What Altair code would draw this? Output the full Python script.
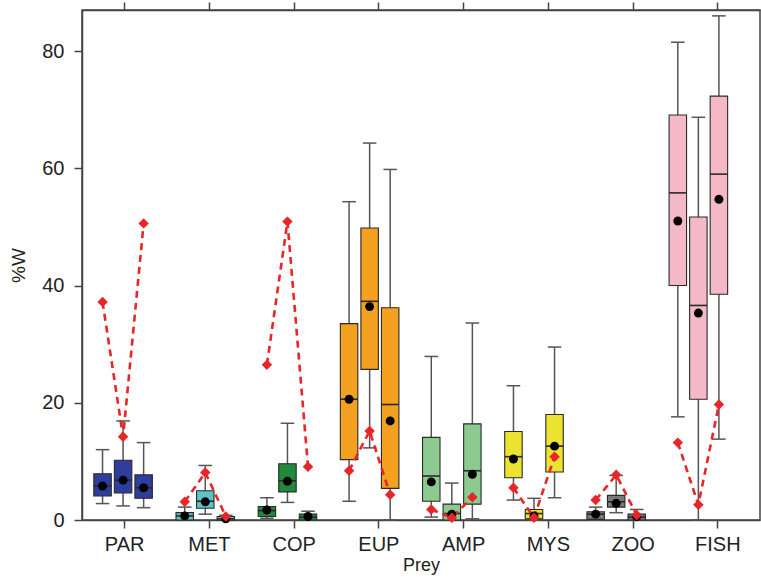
import altair as alt
import pandas as pd

prey = ["PAR", "MET", "COP", "EUP", "AMP", "MYS", "ZOO", "FISH"]
box_colors = ["#2d3e9e", "#5fc3c6", "#1f8a3c", "#f3a11e", "#8ccb90", "#ece230", "#7a7a7a", "#f4b8c6"]

# three groups per prey: whisker low, Q1, median, Q3, whisker high, mean, red diamond
w_lo = [[2.8, 2.4, 2.1], [0.0, 1.0, 0.0], [0.3, 3.0, 0.0], [3.2, 12.3, 0.0],
        [0.5, 0.0, 0.2], [3.4, 0.0, 3.8], [0.0, 1.25, 0.0], [17.6, 0.0, 13.8]]
q1 = [[4.1, 4.6, 3.7], [0.0, 2.0, 0.0], [0.6, 4.8, 0.0], [10.3, 25.7, 5.4],
      [3.2, 0.0, 2.7], [7.2, 0.2, 8.2], [0.1, 2.2, 0.0], [40.0, 20.6, 38.5]]
med = [[5.8, 6.8, 5.5], [0.7, 3.2, 0.2], [1.6, 6.7, 0.5], [20.6, 37.3, 19.7],
       [7.5, 1.1, 8.4], [10.8, 1.1, 12.6], [1.0, 3.1, 0.5], [55.8, 36.6, 59.0]]
q3 = [[7.9, 10.2, 7.7], [1.25, 5.0, 0.6], [2.3, 9.6, 1.0], [33.5, 49.8, 36.2],
      [14.1, 2.7, 16.4], [15.1, 1.8, 18.0], [1.4, 4.2, 1.0], [69.1, 51.7, 72.3]]
w_hi = [[12.0, 16.9, 13.2], [2.2, 9.3, 0.8], [3.8, 16.5, 1.5], [54.3, 64.3, 59.8],
        [27.9, 6.3, 33.6], [22.9, 3.7, 29.5], [2.2, 7.6, 1.8], [81.5, 68.7, 86.0]]
mean = [[5.8, 6.8, 5.5], [0.7, 3.1, 0.2], [1.7, 6.6, 0.6], [20.6, 36.4, 16.9],
        [6.5, 1.0, 7.8], [10.4, 0.7, 12.6], [1.0, 2.85, 0.6], [51.0, 35.3, 54.7]]
red = [[37.2, 14.2, 50.6], [3.1, 8.1, 0.6], [26.5, 50.9, 9.1], [8.4, 15.2, 4.3],
       [1.8, 0.4, 3.9], [5.5, 0.4, 10.8], [3.4, 7.7, 0.85], [13.2, 2.6, 19.7]]

y_ticks = [0, 20, 40, 60, 80]

rows = []
for i, name in enumerate(prey):
    for j in range(3):
        rows.append(dict(prey=name, group=j + 1, p=4 * i + j + 1,
                         lo=w_lo[i][j], q1=q1[i][j], med=med[i][j], q3=q3[i][j],
                         hi=w_hi[i][j], mean=mean[i][j], red=red[i][j]))
df = pd.DataFrame(rows)

tick_pos = [2.05 + 4.125 * i for i in range(len(prey))]
label_expr = "[" + ",".join("'%s'" % p for p in prey) + "][round((datum.value - 2.05) / 4.125)]"

xscale = alt.Scale(domain=[0, 33], nice=False, zero=False)
yscale = alt.Scale(domain=[0, 87], nice=False, zero=False)

x_enc = alt.X("p:Q", scale=xscale,
              axis=alt.Axis(values=tick_pos, labelExpr=label_expr, title="Prey",
                            grid=False, tickSize=8, labelPadding=6, titlePadding=2,
                            labelFontSize=20, titleFontSize=18, labelFlush=False))
y_enc = alt.Y("lo:Q", scale=yscale,
              axis=alt.Axis(values=y_ticks, title="%W", grid=False, tickSize=8,
                            labelPadding=10, titlePadding=13, labelFontSize=20,
                            titleFontSize=19))

base = alt.Chart(df).transform_calculate(
    xl="datum.p - 0.425", xr="datum.p + 0.425",
    cl="datum.p - 0.33", cr="datum.p + 0.33")

whisker = base.mark_rule(color="#555555", strokeWidth=1.5).encode(
    x=x_enc, y=y_enc, y2="hi:Q")
cap_lo = base.mark_rule(color="#555555", strokeWidth=1.5).encode(
    x=alt.X("cl:Q", scale=xscale), x2="cr:Q", y=alt.Y("lo:Q", scale=yscale))
cap_hi = base.mark_rule(color="#555555", strokeWidth=1.5).encode(
    x=alt.X("cl:Q", scale=xscale), x2="cr:Q", y=alt.Y("hi:Q", scale=yscale))
boxes = base.mark_rect(stroke="#2a2a2a", strokeWidth=1.1).encode(
    x=alt.X("xl:Q", scale=xscale), x2="xr:Q",
    y=alt.Y("q1:Q", scale=yscale), y2="q3:Q",
    color=alt.Color("prey:N", scale=alt.Scale(domain=prey, range=box_colors), legend=None))
medians = base.mark_rule(color="#2a2a2a", strokeWidth=1.6).encode(
    x=alt.X("xl:Q", scale=xscale), x2="xr:Q", y=alt.Y("med:Q", scale=yscale))
red_lines = base.mark_line(color="#e8262a", strokeWidth=2.6, strokeDash=[7, 5]).encode(
    x=alt.X("p:Q", scale=xscale), y=alt.Y("red:Q", scale=yscale), detail="prey:N")
means = base.mark_circle(color="black", opacity=1, size=80).encode(
    x=alt.X("p:Q", scale=xscale), y=alt.Y("mean:Q", scale=yscale))
diamonds = base.mark_point(shape="diamond", filled=True, color="#e8262a", opacity=1, size=110).encode(
    x=alt.X("p:Q", scale=xscale), y=alt.Y("red:Q", scale=yscale))

main = alt.layer(whisker, cap_lo, cap_hi, boxes, medians, red_lines, means, diamonds)

top_axis = alt.Chart(df).mark_point(opacity=0).encode(
    x=alt.X("p:Q", scale=xscale,
            axis=alt.Axis(orient="top", values=tick_pos, labels=False, title=None,
                          grid=False, tickSize=8)),
    y=alt.Y("lo:Q", scale=yscale))

chart = alt.layer(main, top_axis).resolve_axis(x="independent").properties(
    width=678, height=510,
    autosize="none",
    padding={"left": 82, "top": 10, "right": 1, "bottom": 57},
).configure_view(
    stroke="#444444", strokeWidth=1.5
).configure_axis(
    domainColor="#444444", domainWidth=1.5, tickColor="#444444", tickWidth=1.5,
    labelColor="#222222", titleColor="#222222", labelFont="Liberation Sans",
    titleFont="Liberation Sans", titleFontWeight="normal"
)

chart.save("out.html", embed_options={"renderer": "svg", "actions": False})
